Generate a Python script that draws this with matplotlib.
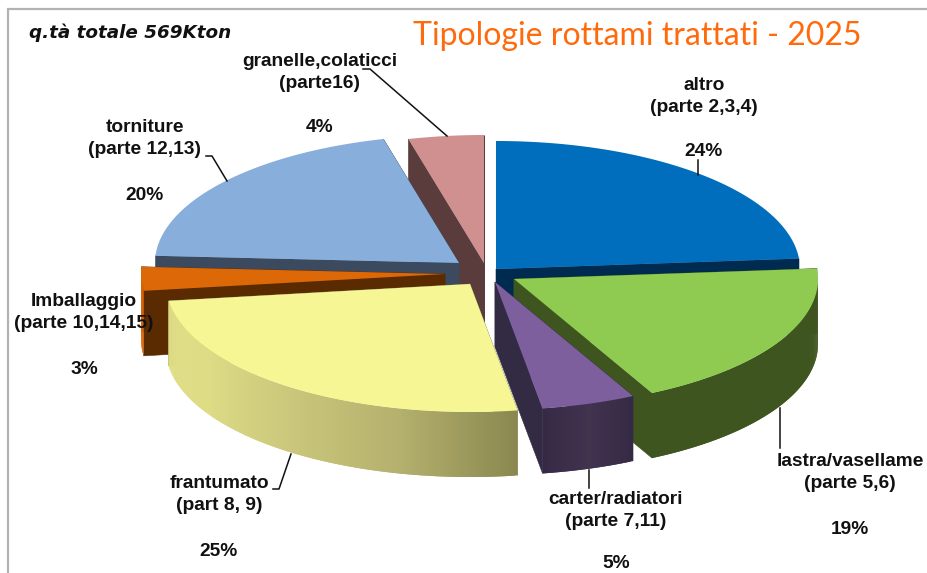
import numpy as np
import matplotlib
matplotlib.use("Agg")
import matplotlib.pyplot as plt
from matplotlib.colors import to_rgb

# ---- data ----
categories = ["altro", "lastra/vasellame", "carter/radiatori", "frantumato",
              "Imballaggio", "torniture", "granelle,colaticci"]
parts = ["(parte 2,3,4)", "(parte 5,6)", "(parte 7,11)", "(part 8, 9)",
         "(parte 10,14,15)", "(parte 12,13)", "(parte16)"]
shares = [23.7, 18.8, 5.0, 25.4, 3.0, 20.1, 4.0]
title = "Tipologie rottami trattati - 2025"
subtitle = "q.tà totale 569Kton"

# ---- layout / style ----
W, H = 928, 573
A, B, DEPTH = 304.0, 128.0, 65.0
apex = [(496, 269), (514, 279), (495, 282), (470, 284), (445, 274), (459, 263), (484, 263)]
top_col = ["#006EBC", "#8ECB50", "#7D5F9E", "#F7F695", "#DD6808", "#88AEDC", "#D09090"]
cut_col = ["#002B50", "#3E5520", "#332A44", "#8A8850", "#5A2A00", "#3B4A5E", "#5A3C3C"]
wall_col = [["#002B50", "#002B50"], ["#3E5520", "#3E5520"],
            ["#352A45", "#42334F", "#352A45"],
            ["#8A8850", "#B5B16E", "#CBC87C", "#DEDC85", "#E0DE86"],
            ["#DD6808", "#DD6808"], ["#3B4A5E", "#3B4A5E"], ["#5A3C3C", "#5A3C3C"]]
draw_order = [6, 0, 5, 4, 1, 2, 3]
label_pos = [(704, 85), (850, 461), (616, 500), (219, 484), (84, 302), (145, 128), (320, 61)]
pct_y = [151, 529, 564, 552, 369, 196, 128]
leaders = [[(698, 160), (698, 175)],
           [(780, 408), (780, 448)],
           [(589, 470), (589, 488)],
           [(273, 489), (279, 489), (291, 454)],
           [],
           [(206, 156), (212, 156), (227, 181)],
           [(363, 69), (370, 69), (447, 136)]]

fig = plt.figure(figsize=(W / 100, H / 100), dpi=100, facecolor="white")
ax = fig.add_axes([0, 0, 1, 1])
ax.set_xlim(0, W)
ax.set_ylim(H, 0)
ax.axis("off")

# frame
ax.plot([8.5, 8.5, W], [H, 9, 9], color="#B2B2B2", lw=1.6, zorder=1, solid_joinstyle="miter")


def rim(c, a0, a1, n=120):
    t = np.radians(np.linspace(a0, a1, n))
    return c[0] + A * np.sin(t), c[1] - B * np.cos(t)


def lerp_stops(stops, f):
    cols = np.array([to_rgb(s) for s in stops])
    p = f * (len(cols) - 1)
    i = min(int(p), len(cols) - 2)
    return cols[i] + (cols[i + 1] - cols[i]) * (p - i)


ends = np.cumsum(shares) / np.sum(shares) * 360.0
starts = np.concatenate([[0.0], ends[:-1]])
z = 2
for i in draw_order:
    c, a0, a1 = apex[i], starts[i], ends[i]
    # radial cut faces
    for ang in (a0, a1):
        x, y = rim(c, ang, ang, 1)
        ax.fill([c[0], x[0], x[0], c[0]],
                [c[1], y[0], y[0] + DEPTH, c[1] + DEPTH],
                color=cut_col[i], lw=0.4, zorder=z)
    # outer wall: overlapping strips so that no seams appear between them
    n = max(int(a1 - a0) * 2, 6)
    edges = np.linspace(a0, a1, n + 1)
    for k in range(n):
        stop = edges[min(k + 2, n)]
        x, y = rim(c, edges[k], stop, 6)
        mid = (edges[k] + edges[k + 1]) / 2
        col = lerp_stops(wall_col[i], (k + 0.5) / n)
        if np.cos(np.radians(mid)) < 0.03 or i == 4:
            ax.fill(np.r_[x, x[::-1]], np.r_[y, y[::-1] + DEPTH],
                    color=col, lw=0, zorder=z)
    # top face
    x, y = rim(c, a0, a1)
    ax.fill(np.r_[c[0], x], np.r_[c[1], y], color=top_col[i], lw=0, zorder=z + 0.5)
    z += 1

# leader lines
for pts in leaders:
    if pts:
        xs, ys = zip(*pts)
        ax.plot(xs, ys, color="#111111", lw=1.1, zorder=30)

# labels
lab = dict(family="Liberation Sans", weight="bold", fontsize=13.8, color="#111111",
           ha="center", va="center", zorder=31)
for i, name in enumerate(categories):
    lx, ly = label_pos[i]
    ax.text(lx, ly, name, **lab)
    ax.text(lx, ly + 22, parts[i], **lab)
    ax.text(lx, pct_y[i], f"{round(shares[i])}%", **lab)

ax.text(29, 33, subtitle, family="DejaVu Sans", weight="bold", style="italic",
        fontsize=13.2, color="#111111", ha="left", va="center", zorder=31)
ax.text(413, 36, title, family="Lato", fontsize=23, color="#FF6A0D",
        ha="left", va="center", zorder=31)

fig.savefig("out.png", dpi=100, facecolor="white")
